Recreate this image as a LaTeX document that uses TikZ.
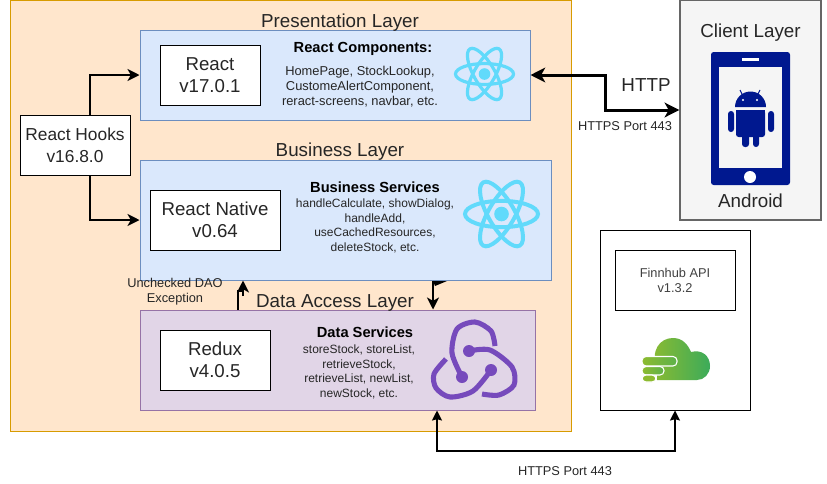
\documentclass[tikz,border=0pt]{standalone}
\usepackage{fontspec}
\setmainfont{Liberation Sans}
\usetikzlibrary{arrows.meta}
\definecolor{layerfill}{HTML}{FFE6CC}
\definecolor{layerline}{HTML}{D79B00}
\definecolor{bluefill}{HTML}{DAE8FC}
\definecolor{blueline}{HTML}{6C8EBF}
\definecolor{purplefill}{HTML}{E1D5E7}
\definecolor{purpleline}{HTML}{9673A6}
\definecolor{reactcolor}{HTML}{61DAFB}
\definecolor{reduxcolor}{HTML}{764ABC}
\definecolor{phonecolor}{HTML}{00188F}
\tikzset{
	boxed/.style={draw=black, fill=white, line width=0.75pt, inner sep=0pt, align=center, text=black!85, font=\fontsize{14}{16.5}\selectfont},
	layerbox/.style={draw=blueline, fill=bluefill, line width=0.75pt, inner sep=0pt},
	title/.style={font=\fontsize{14.1}{16}\selectfont, text=black!85},
	listing/.style={font=\fontsize{9}{10.8}\selectfont, align=center, text=black!85},
	heading/.style={font=\fontsize{11}{13}\selectfont\bfseries},
	small/.style={font=\fontsize{9.6}{11.2}\selectfont, align=center, text=black!85},
	link/.style={line width=1.5pt, >={Stealth[length=9pt,width=9pt,inset=2.5pt]}},
	httplink/.style={line width=2.25pt, >={Stealth[length=11pt,width=11pt,inset=3pt]}},
	thinlink/.style={line width=1.1pt, >={Stealth[length=7.5pt,width=7.5pt,inset=1pt]}},
}
\newcommand{\atom}[4]{% centre x, y, radius x, line width
	\begin{scope}[shift={(#1,#2)}]
		\foreach \ang in {0,60,120}
			\draw [reactcolor, line width=#4, rotate=\ang] (0,0) ellipse [x radius=#3, y radius=#3*0.36];
		\fill [reactcolor] (0,0) circle [radius=#3*0.2];
	\end{scope}
}
\begin{document}
\begin{tikzpicture}[x=0.75pt, y=-0.75pt]
	\useasboundingbox (0,0) rectangle (827,483);
	% layers
	\node (outer) [draw=layerline, fill=layerfill, line width=0.75pt, minimum width=420.75pt, minimum height=323.25pt, inner sep=0pt] at (290.5,215.5) {};
	\node (presentation) [layerbox, minimum width=292.5pt, minimum height=67.5pt] at (335,75) {};
	\node (business) [layerbox, minimum width=308.25pt, minimum height=90pt] at (345.5,220) {};
	\node (data) [layerbox, draw=purpleline, fill=purplefill, minimum width=296.25pt, minimum height=75pt] at (337.5,360) {};
	\node (client) [draw=black!60, fill=black!4, line width=1pt, minimum width=105.75pt, minimum height=165pt, inner sep=0pt] at (750.5,110) {};
	\node (finnhub) [draw=black, fill=white, line width=0.75pt, minimum width=112.5pt, minimum height=135pt, inner sep=0pt] at (675,320) {};

	\node [title] at (340,23) {Presentation Layer};
	\node [title] at (340,152) {Business Layer};
	\node [title] at (335,303) {Data Access Layer};
	\node [title] at (750.5,33) {Client Layer};
	\node [title] at (750.5,201) {Android};

	% boxes
	\node (react) [boxed, minimum width=75pt, minimum height=45pt] at (210,75) {React\\v17.0.1};
	\node (hooks) [boxed, font=\fontsize{13}{16.5}\selectfont, minimum width=82.5pt, minimum height=45pt] at (75,145) {React Hooks\\v16.8.0};
	\node (native) [boxed, minimum width=97.5pt, minimum height=45pt] at (215,220) {React Native\\v0.64};
	\node (redux) [boxed, minimum width=82.5pt, minimum height=45pt] at (215,360) {Redux\\v4.0.5};
	\node (api) [boxed, font=\fontsize{9.6}{11.2}\selectfont, text=black!75, minimum width=90pt, minimum height=45pt] at (675,280) {Finnhub API\\v1.3.2};

	% service lists
	\node [heading] at (363,49) {React Components:};
	\node [listing, font=\fontsize{9.65}{11.25}\selectfont] at (360,87) {HomePage, StockLookup,\\CustomeAlertComponent,\\reract-screens, navbar, etc.};
	\node [heading] at (375,187) {Business Services};
	\node [listing] at (375,226) {handleCalculate, showDialog,\\handleAdd,\\useCachedResources,\\deleteStock, etc.};
	\node [heading] at (365,332) {Data Services};
	\node [listing] at (359,372) {storeStock, storeList,\\retrieveStock,\\retrieveList, newList,\\newStock, etc.};

	% icons
	\atom{484.5}{74}{29}{2.4pt}
	\atom{501.5}{214}{36.5}{3pt}

	\begin{scope}[reduxcolor, line width=3.8pt]
		\draw plot [smooth] coordinates {(462,377) (452,353) (457,329) (475,322) (491,331) (495,346)};
		\draw plot [smooth] coordinates {(469,351) (490,350) (512,367) (514,385) (499,395) (482,394)};
		\draw plot [smooth] coordinates {(491,370) (473,391) (450,397) (436,388) (434,374) (446,359)};
		\fill (469,351) circle [radius=6];
		\fill (491,370) circle [radius=6];
		\fill (462,377) circle [radius=6];
	\end{scope}

	\begin{scope}
		\fill [phonecolor, rounded corners=2pt] (711,52) rectangle (790,185);
		\fill [black!4] (719,67) rectangle (782,168);
		\fill [white] (742,58) rectangle (759,61);
		\fill [white] (750,177) circle [radius=6];
		\fill [phonecolor] (735,107) arc [start angle=180, end angle=360, x radius=15.5, y radius=15.5] -- cycle;
		\draw [phonecolor, line width=0.75pt] (740,90) -- (743,96) (760,90) -- (757,96);
		\fill [white] (743,100) circle [radius=1.2] (757,100) circle [radius=1.2];
		\fill [phonecolor, rounded corners=2pt] (736,110) rectangle (765,137);
		\fill [phonecolor] (736,110) rectangle (765,125);
		\fill [phonecolor, rounded corners=2.2pt] (728,111) rectangle (734,132);
		\fill [phonecolor, rounded corners=2.2pt] (768,111) rectangle (774,132);
		\fill [phonecolor, rounded corners=2.2pt] (742,130) rectangle (749,147);
		\fill [phonecolor, rounded corners=2.2pt] (753,130) rectangle (759,147);
	\end{scope}

	\begin{scope}
		\definecolor{cloudleft}{HTML}{8DBB30}
		\definecolor{cloudright}{HTML}{3CAB5A}
		\shade [left color=cloudleft, right color=cloudright]
			(657,380) -- (657,370) .. controls (650,350) and (660,338) .. (673,338)
			.. controls (683,338) and (688,345) .. (691,352)
			.. controls (702,349) and (710,356) .. (710,366)
			.. controls (710,374) and (704,380) .. (697,380) -- cycle;
		\shade [left color=cloudleft, right color=cloudright!60!cloudleft, draw=white, line width=0.8pt, rounded corners=3pt] (642,356.5) rectangle (677,366);
		\shade [left color=cloudleft, right color=cloudright!60!cloudleft, draw=white, line width=0.8pt, rounded corners=3pt] (642,366.5) rectangle (664,375);
		\shade [left color=cloudleft, right color=cloudleft, draw=white, line width=0.8pt, rounded corners=3pt] (642,375) rectangle (656,382);
	\end{scope}

	% connectors
	\draw [link, ->] ([xshift=11.25pt]hooks.north) |- (presentation.west);
	\draw [link, ->] ([xshift=11.25pt]hooks.south) |- (business.west);
	\draw [httplink, <->] (presentation.east) -| (605,110) -- (client.west);
	\draw [link] (238,0 |- data.north) -- (238,291) -- (243,291);
	\draw [link, ->] (243,296) -- (243,0 |- business.south);
	\draw [link, ->] (433,0 |- business.south) -- (433,0 |- data.north);
	\fill (433,281) -- (447,281) -- (435,286) -- cycle;
	\draw [thinlink, <->] (437,0 |- data.south) -- (437,451) -| (finnhub.south);

	% link labels
	\node [title, text=black!85] at (646,85) {HTTP};
	\node [small] at (625,126) {HTTPS Port 443};
	\node [small] at (565,471) {HTTPS Port 443};
	\node [small] at (175,292) {Unchecked DAO\\Exception};
\end{tikzpicture}
\end{document}
